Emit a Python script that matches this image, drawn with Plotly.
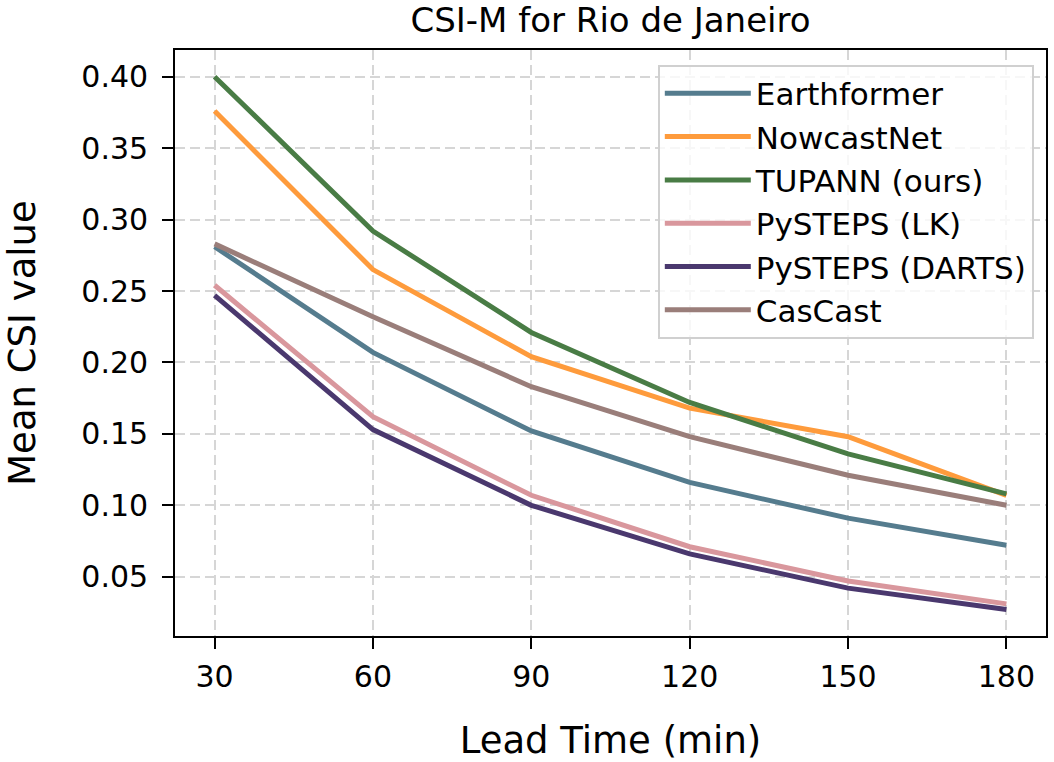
import plotly.graph_objects as go

lead_time = [30, 60, 90, 120, 150, 180]
earthformer = [0.281, 0.207, 0.152, 0.116, 0.091, 0.072]
nowcastnet = [0.376, 0.265, 0.204, 0.168, 0.148, 0.107]
tupann = [0.400, 0.292, 0.221, 0.172, 0.136, 0.108]
pysteps_lk = [0.254, 0.162, 0.107, 0.071, 0.047, 0.031]
pysteps_darts = [0.247, 0.153, 0.100, 0.066, 0.042, 0.027]
cascast = [0.283, 0.232, 0.183, 0.148, 0.121, 0.100]

series = [
    ("Earthformer", earthformer, "#557c8e"),
    ("NowcastNet", nowcastnet, "#fe9b3c"),
    ("TUPANN (ours)", tupann, "#497c45"),
    ("PySTEPS (LK)", pysteps_lk, "#d9979d"),
    ("PySTEPS (DARTS)", pysteps_darts, "#4a386e"),
    ("CasCast", cascast, "#9a7e7a"),
]

fig = go.Figure()
for name, vals, color in series:
    fig.add_trace(go.Scatter(x=lead_time, y=vals, mode="lines", name=name,
                             line=dict(color=color, width=5)))

font = "DejaVu Sans"
grid = dict(showgrid=True, gridcolor="#d6d6d6", griddash="10px,5px", gridwidth=1.8)
fig.update_layout(
    width=1054, height=762,
    margin=dict(l=175, r=6, t=50, b=123),
    paper_bgcolor="white", plot_bgcolor="white",
    font=dict(family=font, color="black", size=30),
    title=dict(text="CSI-M for Rio de Janeiro", x=0.5, xref="paper", xanchor="center",
               y=1 - 20 / 762, yref="container", yanchor="middle", font=dict(size=34)),
    xaxis=dict(range=[22.5, 187.5], tickvals=lead_time, ticks="outside", ticklen=11,
               tickwidth=1.8, tickcolor="black", showline=True, linecolor="black",
               linewidth=1.8, mirror=True, zeroline=False, ticklabelstandoff=2, **grid,
               title=dict(text="Lead Time (min)", font=dict(size=37), standoff=36)),
    yaxis=dict(range=[0.0085, 0.4187], tickvals=[0.05, 0.10, 0.15, 0.20, 0.25, 0.30, 0.35, 0.40],
               tickformat=".2f", ticks="outside", ticklen=11, tickwidth=1.8, tickcolor="black",
               showline=True, linecolor="black", linewidth=1.8, mirror=True,
               zeroline=False, ticklabelstandoff=8, **grid,
               title=dict(text="Mean CSI value", font=dict(size=37), standoff=34)),
    legend=dict(x=0.986, y=0.975, xanchor="right", yanchor="top",
                bgcolor="rgba(255,255,255,0.8)", bordercolor="#d0d0d0", borderwidth=2,
                font=dict(size=31), tracegroupgap=0, itemwidth=86),
)

fig.write_html("out.html")
